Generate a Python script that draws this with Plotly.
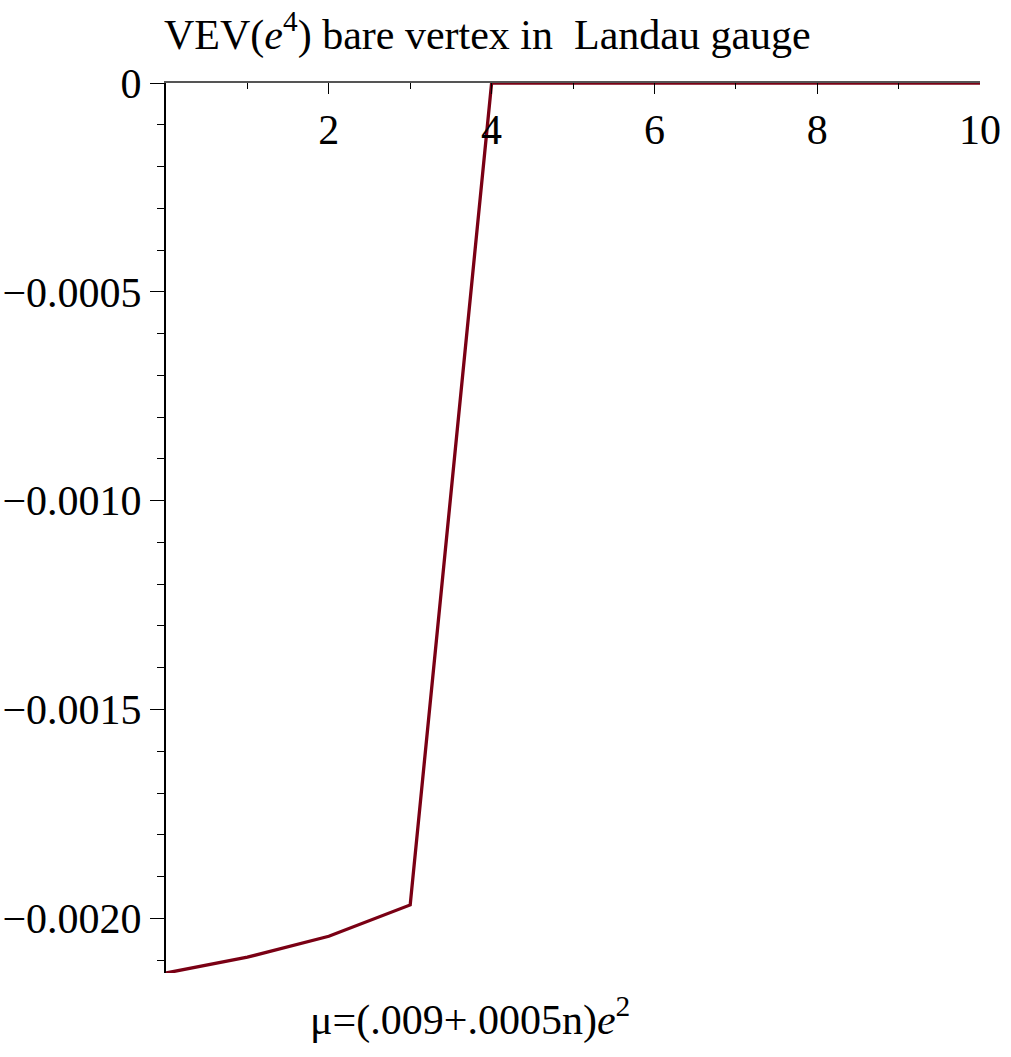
import plotly.graph_objects as go

n_vals = [0, 1, 2, 3, 4, 5, 6, 7, 8, 9, 10]
vev = [-0.002131, -0.002093, -0.002043, -0.001968, 0, 0, 0, 0, 0, 0, 0]

x_ticks = [2, 4, 6, 8, 10]
x_minor = [1, 3, 5, 7, 9]
y_ticks = [0, -0.0005, -0.0010, -0.0015, -0.0020]
y_labels = ["0", "\u22120.0005", "\u22120.0010", "\u22120.0015", "\u22120.0020"]
y_minor = [-0.0001 * k for k in range(1, 22) if k % 5 != 0]

W, H = 1011, 1057
L, R, T, B = 166, 31, 83, 84
font = "Liberation Serif"
fs = 42

fig = go.Figure()
fig.add_trace(go.Scatter(x=n_vals, y=vev, mode="lines", cliponaxis=False,
                         line=dict(color="#7a0014", width=3.3), showlegend=False))

fig.update_layout(
    width=W, height=H,
    margin=dict(l=L, r=R, t=T, b=B, autoexpand=False),
    paper_bgcolor="white", plot_bgcolor="white",
    font=dict(family=font, size=fs, color="black"),
    xaxis=dict(range=[0, 10], side="top", tickvals=x_ticks, ticks="inside",
               ticklen=11, tickwidth=1, tickcolor="black", automargin=False,
               ticklabelposition="inside", ticklabeloverflow="allow",
               ticklabelstandoff=26,
               showgrid=False, zeroline=False,
               showline=True, linecolor="#555555", linewidth=2,
               tickfont=dict(family=font, size=fs, color="black"),
               minor=dict(tickvals=x_minor, ticks="inside", ticklen=6,
                          tickcolor="black", tickwidth=1)),
    yaxis=dict(range=[-0.002131, 0.0000001], tickvals=y_ticks, ticktext=y_labels,
               ticks="outside", ticklen=14, tickwidth=1, tickcolor="black",
               automargin=False, ticklabeloverflow="allow",
               showgrid=False, zeroline=False, showline=True,
               linecolor="black", linewidth=2,
               tickfont=dict(family=font, size=fs, color="black"),
               minor=dict(tickvals=y_minor, ticks="outside", ticklen=7,
                          tickcolor="black", tickwidth=1)),
    annotations=[
        dict(text="VEV(<i>e</i><sup>4</sup>) bare vertex in  Landau gauge",
             xref="paper", yref="paper", x=0, y=1, xshift=-4, yshift=22,
             xanchor="left", yanchor="bottom", showarrow=False,
             font=dict(family=font, size=fs, color="black")),
        dict(text="\u03bc=(.009+.0005n)<i>e</i><sup>2</sup>",
             xref="paper", yref="paper", x=(470 - L) / (W - L - R), y=0,
             yshift=-15, xanchor="center", yanchor="top", showarrow=False,
             font=dict(family=font, size=fs, color="black")),
    ],
)

fig.write_html("out.html", config={"displayModeBar": False},
               post_script="document.body.style.margin='0px';")
